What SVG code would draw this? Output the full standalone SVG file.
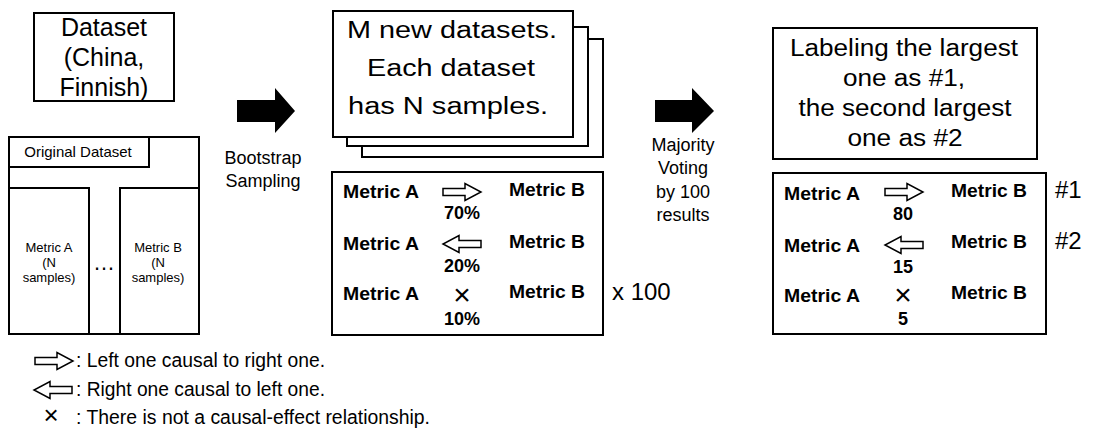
<svg xmlns="http://www.w3.org/2000/svg" width="1093" height="431" viewBox="0 0 1093 431">
<style>
.box{fill:#fff;stroke:#000;stroke-width:2}
.t{font-family:"Liberation Sans",Arial,sans-serif;fill:#000}
.c{text-anchor:middle}
.b{font-weight:bold;font-size:18px}
.big{font-size:23px}
.x{font-size:30px}
.lg{font-size:20px}
.ha{fill:#fff;stroke:#000;stroke-width:1.5;stroke-linejoin:miter}
</style>
<defs>
<path id="ra" d="M0,-3.5 H22 V-8.5 L38,0 L22,8.5 V3.5 H0 Z"/>
<path id="la" d="M38,-3.5 H16 V-8.5 L0,0 L16,8.5 V3.5 H38 Z"/>
</defs>

<g id="dataset">
<rect class="box" x="34" y="13" width="140" height="88"/>
<text class="t c" x="104" y="36" font-size="25">Dataset</text>
<text class="t c" x="104" y="66" font-size="25">(China,</text>
<text class="t c" x="104" y="96" font-size="25">Finnish)</text>
</g>

<g id="original">
<rect class="box" x="9" y="137" width="190" height="197"/>
<rect class="box" x="9" y="137" width="140" height="30"/>
<rect class="box" x="9" y="188" width="80" height="146"/>
<rect class="box" x="120" y="188" width="79" height="146"/>
<text class="t c" x="78" y="157" font-size="15">Original Dataset</text>
<text class="t c" x="49" y="252" font-size="13">Metric A</text>
<text class="t c" x="49" y="267" font-size="13">(N</text>
<text class="t c" x="49" y="282" font-size="13">samples)</text>
<text class="t c" x="158" y="252" font-size="13">Metric B</text>
<text class="t c" x="158" y="267" font-size="13">(N</text>
<text class="t c" x="158" y="282" font-size="13">samples)</text>
<text class="t c" x="104" y="270" font-size="22">…</text>
</g>

<g id="connectors">
<polygon points="237,100 275,100 275,88 295,111 275,133 275,122 237,122" fill="#000"/>
<polygon points="655,100 692,100 692,88 714,111 692,133 692,122 655,122" fill="#000"/>
</g>

<g id="bootstrap-label">
<text class="t c" x="263" y="164" font-size="18">Bootstrap</text>
<text class="t c" x="263" y="187" font-size="18">Sampling</text>
</g>

<g id="majority-label">
<text class="t c" x="683" y="151" font-size="18">Majority</text>
<text class="t c" x="683" y="174" font-size="18">Voting</text>
<text class="t c" x="683" y="198" font-size="18">by 100</text>
<text class="t c" x="683" y="221" font-size="18">results</text>
</g>

<g id="new-datasets">
<rect class="box" x="362" y="39" width="241" height="118"/>
<rect class="box" x="347" y="27" width="241" height="119"/>
<rect class="box" x="333" y="11" width="240" height="126"/>
<text class="t c big" x="452" y="38" textLength="210" lengthAdjust="spacingAndGlyphs">M new datasets.</text>
<text class="t c big" x="451" y="76" textLength="168" lengthAdjust="spacingAndGlyphs">Each dataset</text>
<text class="t c big" x="448" y="114" textLength="200" lengthAdjust="spacingAndGlyphs">has N samples.</text>
</g>

<g id="results">
<rect class="box" x="332" y="172" width="271" height="163"/>
<text class="t b" x="343" y="198" textLength="76" lengthAdjust="spacingAndGlyphs">Metric A</text>
<text class="t b" x="343" y="250" textLength="76" lengthAdjust="spacingAndGlyphs">Metric A</text>
<text class="t b" x="343" y="300" textLength="76" lengthAdjust="spacingAndGlyphs">Metric A</text>
<text class="t b" x="509" y="196" textLength="76" lengthAdjust="spacingAndGlyphs">Metric B</text>
<text class="t b" x="509" y="248" textLength="76" lengthAdjust="spacingAndGlyphs">Metric B</text>
<text class="t b" x="509" y="298" textLength="76" lengthAdjust="spacingAndGlyphs">Metric B</text>
<use href="#ra" class="ha" x="443" y="192"/>
<use href="#la" class="ha" x="443" y="244"/>
<text class="t c x" x="462" y="305">×</text>
<text class="t c b" x="462" y="219">70%</text>
<text class="t c b" x="462" y="272">20%</text>
<text class="t c b" x="462" y="325">10%</text>
<text class="t" x="612" y="300" font-size="24">x 100</text>
</g>

<g id="labeling">
<rect class="box" x="773" y="28" width="264" height="131"/>
<text class="t c big" x="904" y="56" textLength="228" lengthAdjust="spacingAndGlyphs">Labeling the largest</text>
<text class="t c big" x="904" y="86" textLength="122" lengthAdjust="spacingAndGlyphs">one as #1,</text>
<text class="t c big" x="905" y="116" textLength="213" lengthAdjust="spacingAndGlyphs">the second largest</text>
<text class="t c big" x="905" y="146" textLength="115" lengthAdjust="spacingAndGlyphs">one as #2</text>
</g>

<g id="final">
<rect class="box" x="773" y="173" width="273" height="161"/>
<text class="t b" x="784" y="200" textLength="76" lengthAdjust="spacingAndGlyphs">Metric A</text>
<text class="t b" x="784" y="252" textLength="76" lengthAdjust="spacingAndGlyphs">Metric A</text>
<text class="t b" x="784" y="302" textLength="76" lengthAdjust="spacingAndGlyphs">Metric A</text>
<text class="t b" x="951" y="197" textLength="76" lengthAdjust="spacingAndGlyphs">Metric B</text>
<text class="t b" x="951" y="248" textLength="76" lengthAdjust="spacingAndGlyphs">Metric B</text>
<text class="t b" x="951" y="299" textLength="76" lengthAdjust="spacingAndGlyphs">Metric B</text>
<use href="#ra" class="ha" x="885" y="192"/>
<use href="#la" class="ha" x="885" y="245"/>
<text class="t c x" x="903" y="305">×</text>
<text class="t c b" x="903" y="220">80</text>
<text class="t c b" x="903" y="273">15</text>
<text class="t c b" x="903" y="325">5</text>
<text class="t" x="1055" y="198" font-size="24">#1</text>
<text class="t" x="1055" y="249" font-size="24">#2</text>
</g>

<g id="legend">
<use href="#ra" class="ha" x="35" y="361"/>
<use href="#la" class="ha" x="34" y="390"/>
<text class="t c" x="51" y="424" font-size="26">×</text>
<text class="t lg" x="76" y="367" textLength="249" lengthAdjust="spacingAndGlyphs">: Left one causal to right one.</text>
<text class="t lg" x="76" y="396" textLength="249" lengthAdjust="spacingAndGlyphs">: Right one causal to left one.</text>
<text class="t lg" x="76" y="424" textLength="354" lengthAdjust="spacingAndGlyphs">: There is not a causal-effect relationship.</text>
</g>
</svg>
